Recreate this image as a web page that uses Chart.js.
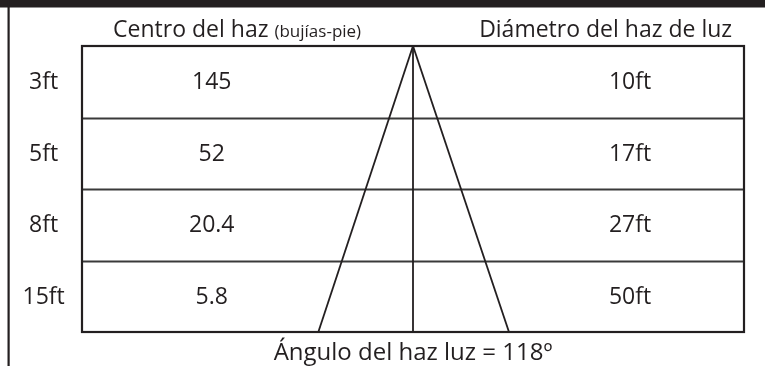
<!DOCTYPE html>
<html>
<head>
<meta charset="utf-8">
<script src="https://cdn.jsdelivr.net/npm/chart.js@4.4.1/dist/chart.umd.min.js"></script>
<style>
  html, body { margin: 0; padding: 0; background: #ffffff; }
  #wrap { width: 765px; height: 366px; }
</style>
</head>
<body>
<div id="wrap"><canvas id="canvasHaz" width="765" height="366"></canvas></div>
<script>
// datos del diagrama fotométrico
const distancias = ['3ft', '5ft', '8ft', '15ft'];
const centroHaz = ['145', '52', '20.4', '5.8'];          // bujías-pie
const diametroHaz = ['10ft', '17ft', '27ft', '50ft'];
const anguloHaz = 118;

// cono dibujado (unidades de la escala x: 0..100 a lo ancho de la tabla)
const conoApice = 50;
const conoBase = [35.7, 64.5];

const INK = '#231f20';
const FONT = '"Open Sans", "DejaVu Sans", sans-serif';
const TXT = '23px ' + FONT;

// 🧾 plugin: marco, filas y textos de la tabla
const tablaPlugin = {
    id: 'tabla',
    beforeDatasetsDraw(chart) {
        const { ctx, chartArea: a, scales: { y } } = chart;
        ctx.save();
        // barra superior y linea izquierda
        ctx.fillStyle = INK;
        ctx.fillRect(0, 0, chart.width, 7.5);
        ctx.fillRect(7.5, 0, 2.2, chart.height);

        // lineas entre filas
        ctx.strokeStyle = '#3a3a3a';
        ctx.lineWidth = 2;
        for (let i = 1; i < distancias.length; i++) {
            const py = Math.round(y.getPixelForValue(i)) + 0.5;
            ctx.beginPath();
            ctx.moveTo(a.left, py);
            ctx.lineTo(a.right, py);
            ctx.stroke();
        }
        // marco
        ctx.strokeStyle = INK;
        ctx.lineWidth = 2.2;
        ctx.strokeRect(a.left, a.top, a.right - a.left, a.bottom - a.top);
        ctx.restore();
    },
    afterDatasetsDraw(chart) {
        const { ctx, scales: { x, y } } = chart;
        ctx.save();
        ctx.fillStyle = INK;
        ctx.textBaseline = 'middle';
        ctx.font = TXT;

        distancias.forEach((d, i) => {
            const py = y.getPixelForValue(i + 0.5) + 1;
            ctx.textAlign = 'center';
            ctx.fillText(d, x.getPixelForValue(-5.8), py);
            ctx.fillText(centroHaz[i], x.getPixelForValue(19.6), py);
            ctx.textAlign = 'left';
            ctx.fillText(diametroHaz[i], x.getPixelForValue(79.6), py);
        });

        // encabezados
        ctx.textBaseline = 'alphabetic';
        ctx.textAlign = 'left';
        const hx = x.getPixelForValue(4.7);
        const titulo = 'Centro del haz';
        ctx.fillText(titulo, hx, 37);
        const w = ctx.measureText(titulo + ' ').width;
        ctx.font = '17px ' + FONT;
        ctx.fillText('(bujías-pie)', hx + w, 37);

        ctx.font = TXT;
        ctx.textAlign = 'right';
        ctx.fillText('Diámetro del haz de luz', x.getPixelForValue(98.2), 37);

        // pie
        ctx.font = '24px ' + FONT;
        ctx.textAlign = 'center';
        ctx.fillText('Ángulo del haz luz = ' + anguloHaz + 'º', x.getPixelForValue(conoApice), 360);
        ctx.restore();
    }
};

const filas = distancias.length;
const lineaCono = (bx) => ({
    data: [{ x: conoApice, y: 0 }, { x: bx, y: filas }],
    showLine: true,
    borderColor: INK,
    borderWidth: 1.8,
    pointRadius: 0,
    fill: false
});

new Chart(document.getElementById('canvasHaz'), {
    type: 'scatter',
    data: {
        datasets: [
            lineaCono(conoBase[0]),
            lineaCono(conoApice),
            lineaCono(conoBase[1])
        ]
    },
    options: {
        responsive: false,
        animation: false,
        layout: { padding: { left: 82, right: 21, top: 46, bottom: 34 } },
        plugins: { legend: { display: false }, tooltip: { enabled: false } },
        scales: {
            x: { type: 'linear', min: 0, max: 100, display: false },
            y: { type: 'linear', min: 0, max: filas, reverse: true, display: false }
        }
    },
    plugins: [tablaPlugin]
});
</script>
</body>
</html>
